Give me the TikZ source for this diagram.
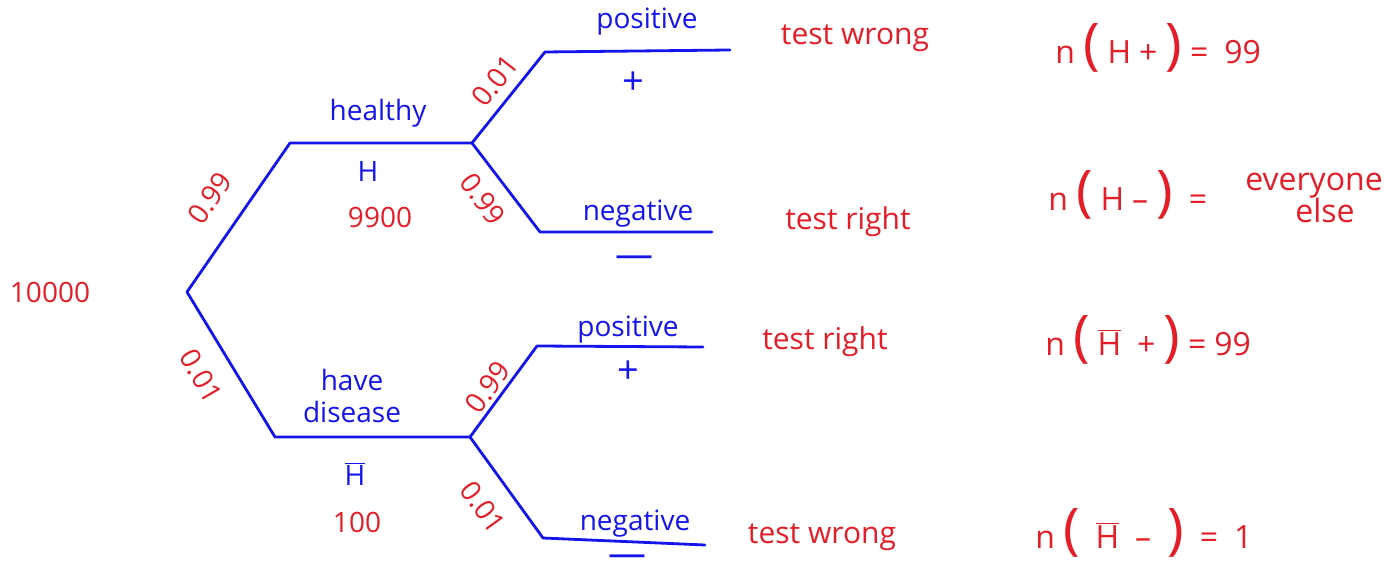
\documentclass[tikz,border=0pt]{standalone}
\usepackage{fontspec}
\setmainfont{Open Sans}
\definecolor{inkblue}{RGB}{20,20,235}
\definecolor{inkred}{RGB}{228,30,40}
\newcommand{\bparen}[1]{{\fontsize{28}{30}\selectfont #1}}
\newcommand{\Hbar}{\(\overline{\mbox{H}}\)}
\newcommand{\gap}{\hspace{4pt}}
\begin{document}
\begin{tikzpicture}[x=0.5pt,y=-0.5pt,
  branch/.style={draw=inkblue, line width=1.4pt, line cap=round, line join=round},
  bl/.style={text=inkblue, font=\fontsize{14}{16}\selectfont, inner sep=0pt},
  sign/.style={text=inkblue, font=\fontsize{19}{21}\selectfont, inner sep=0pt},
  rd/.style={text=inkred, font=\fontsize{14}{16}\selectfont, inner sep=0pt},
  tx/.style={text=inkred, font=\fontsize{15}{17}\selectfont, inner sep=0pt},
  eq/.style={text=inkred, font=\fontsize{16}{18}\selectfont, inner sep=0pt, anchor=west}]
\useasboundingbox (0,0) rectangle (1400,576);
% tree points
\coordinate (root) at (187,292);
\coordinate (h1) at (290,143);
\coordinate (h2) at (472,143);
\coordinate (d1) at (275,437);
\coordinate (d2) at (470,437);
\coordinate (hp1) at (545,52);
\coordinate (hp2) at (730,50);
\coordinate (hn1) at (540,232);
\coordinate (hn2) at (712,232);
\coordinate (dp1) at (537,346);
\coordinate (dp2) at (703,347);
\coordinate (dn1) at (543,538);
\coordinate (dn2) at (705,545);
% branches
\draw[branch] (root) -- (h1) -- (h2);
\draw[branch] (root) -- (d1) -- (d2);
\draw[branch] (h2) -- (hp1) -- (hp2);
\draw[branch] (h2) -- (hn1) -- (hn2);
\draw[branch] (d2) -- (dp1) -- (dp2);
\draw[branch] (d2) -- (dn1) -- (dn2);
% labels
\node[rd] (n0) at (50,292) {10000};
\node[rd, rotate=55] (p1) at (210,198) {0.99};
\node[rd, rotate=-60] (p2) at (201,376) {0.01};
\node[bl] (healthy) at (378,113) {healthy};
\node[bl] (Hl) at (368,172) {H};
\node[rd] (n9900) at (380,217) {9900};
\node[bl, align=center] (have) at (352,396) {have\\disease};
\node[bl] (Hb) at (355,474) {\Hbar};
\node[rd] (n100) at (357,522) {100};
\node[rd, rotate=52] (p3) at (495,81) {0.01};
\node[rd, rotate=-54] (p4) at (483,199) {0.99};
\node[rd, rotate=54] (p5) at (488,387) {0.99};
\node[rd, rotate=-54] (p6) at (483,507) {0.01};
\node[bl] (pos1) at (647,22) {positive};
\node[sign] (plus1) at (633,83) {+};
\node[bl] (neg1) at (638,214) {negative};
\node[sign] (min1) at (634,262) {—};
\node[bl] (pos2) at (628,330) {positive};
\node[sign] (plus2) at (628,372) {+};
\node[bl] (neg2) at (635,524) {negative};
\node[sign] (min2) at (627,561) {—};
\node[tx] (tw1) at (855,38) {test wrong};
\node[tx] (tr1) at (848,222) {test right};
\node[tx] (tr2) at (825,342) {test right};
\node[tx] (tw2) at (822,537) {test wrong};
\node[eq] (e1) at (1055,48) {n\gap\bparen{(}\gap H\gap +\gap\bparen{)}\gap=\gap\gap 99};
\node[eq] (e2) at (1048,195) {n\gap\bparen{(}\gap H\gap –\gap\bparen{)}\gap\gap=};
\node[eq, anchor=center] (e2a) at (1314,186) {everyone};
\node[eq, anchor=center] (e2b) at (1325,211) {else};
\node[eq] (e3) at (1045,340) {n\gap\bparen{(}\gap\Hbar\gap\gap +\gap\bparen{)}\gap=\gap 99};
\node[eq] (e4) at (1035,533) {n\gap\bparen{(}\gap\gap\Hbar\gap\gap –\gap\gap\bparen{)}\gap\gap=\gap\gap 1};
\end{tikzpicture}
\end{document}
